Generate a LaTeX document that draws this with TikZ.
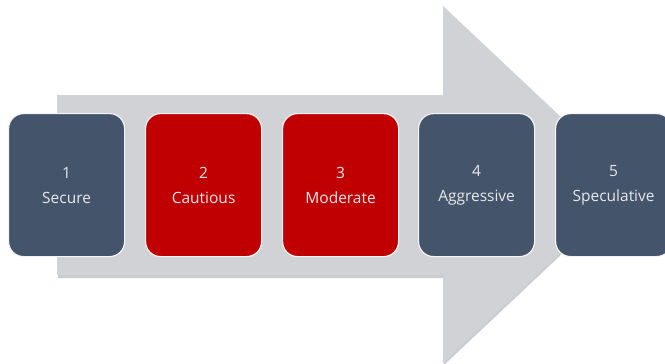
\documentclass[tikz,border=0pt]{standalone}
\usepackage{fontspec}
\setmainfont{Open Sans}
\definecolor{slate}{HTML}{44546A}
\definecolor{rred}{HTML}{C00000}
\definecolor{arrowgray}{HTML}{D0D2D6}
\definecolor{shadowgray}{HTML}{A9ABAF}
\definecolor{txt}{HTML}{E6E8EC}
\begin{document}
\begin{tikzpicture}[x=1pt,y=-1pt,
  stepbox/.style={draw=white!92!gray, line width=1.2pt, rounded corners=15pt,
    minimum width=116pt, minimum height=143pt, inner sep=0pt, anchor=north west,
    text=txt, align=center, font=\fontsize{15.5}{25}\selectfont}]
\clip (0,0) rectangle (665,364);
\fill[white] (0,0) rectangle (665,364);
% shadow
\fill[shadowgray, opacity=0.6] (58,97) -- (444,97) -- (444,8) -- (634,186) -- (444,365) -- (444,278) -- (58,278) -- cycle;
% arrow
\fill[arrowgray] (57,95) -- (443,95) -- (443,6) -- (633,185) -- (443,363) -- (443,275) -- (57,275) -- cycle;
\node[stepbox, fill=slate] (b1) at (8,113) {1\\Secure};
\node[stepbox, fill=rred] (b2) at (145,113) {2\\Cautious};
\node[stepbox, fill=rred] (b3) at (282,113) {3\\Moderate};
\node[stepbox, fill=slate] (b4) at (418,113) {4\\Aggressive};
\node[stepbox, fill=slate] (b5) at (555,113) {5\\Speculative};
\end{tikzpicture}
\end{document}
